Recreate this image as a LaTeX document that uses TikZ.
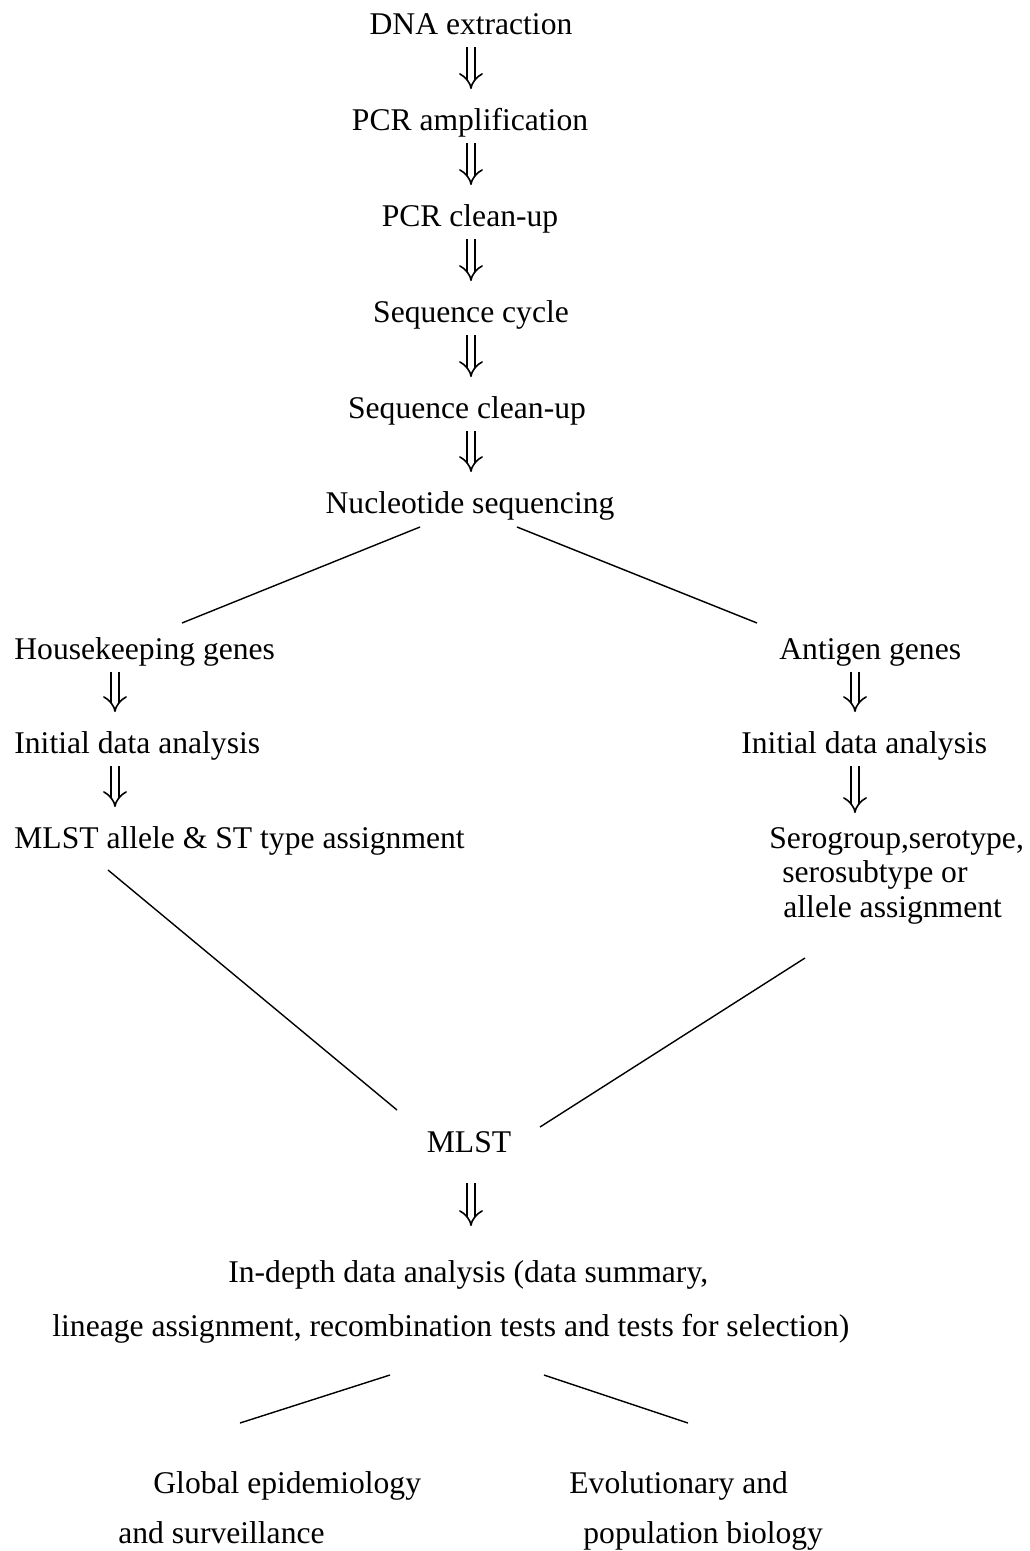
\documentclass[tikz,border=0pt]{standalone}
\usepackage{fontspec}
\setmainfont{Liberation Serif}
\usepackage{tikz}
\usetikzlibrary{arrows.meta}

\begin{document}
\begin{tikzpicture}[x=0.5pt, y=-0.5pt,
    stage/.style={inner sep=0pt, text height=14.5pt, text depth=3.9pt,
                  font=\fontsize{15.8}{17.3}\selectfont},
    block/.style={inner sep=0pt, align=left,
                  font=\fontsize{15.8}{17.3}\selectfont},
    flow/.style={double, double distance=3.4pt, line width=0.8pt,
                 -{Implies[length=8pt, width=15pt]},
                 shorten <=11.5pt, shorten >=15.5pt},
    link/.style={line width=0.7pt}]

\useasboundingbox (0,0) rectangle (1029,1551);

%% ── Lab steps ────────────────────────────────────────────────────────────────
\node[stage] (dna) at (471,24) {DNA extraction};
\node[stage] (pcr) at (470,120) {PCR amplification};
\node[stage] (pcrclean) at (470,216) {PCR clean-up};
\node[stage] (seqcycle) at (471,312) {Sequence cycle};
\node[stage] (seqclean) at (467,408) {Sequence clean-up};
\node[stage] (nucseq) at (470,503) {Nucleotide sequencing};

%% ── Left branch ──────────────────────────────────────────────────────────────
\node[stage, anchor=west] (hkgenes) at (14,649) {Housekeeping genes};
\node[stage, anchor=west] (idaleft) at (14,743) {Initial data analysis};
\node[stage, anchor=west] (mlstassign) at (14,838)
    {MLST allele \& ST type assignment};

%% ── Right branch ─────────────────────────────────────────────────────────────
\node[stage, anchor=west] (aggenes) at (779,649) {Antigen genes};
\node[stage, anchor=west] (idaright) at (741,743) {Initial data analysis};
\node[block, anchor=north west] (serotype) at (769,827)
    {Serogroup,serotype,\\ \hspace*{6.5pt}serosubtype or\\ \hspace*{7pt}allele assignment};

%% ── Merge and analysis ───────────────────────────────────────────────────────
\node[stage] (mlst) at (469,1142) {MLST};
\node[block, anchor=north west] (indepth) at (52,1260)
    {\hspace*{88pt}In-depth data analysis (data summary,\\[9.7pt]
     lineage assignment, recombination tests and tests for selection)};

\node[block, anchor=north west] (global) at (118,1471)
    {\hspace*{17.5pt}Global epidemiology\\[8pt] and surveillance};
\node[block, anchor=north west] (evol) at (569,1471)
    {Evolutionary and\\[8pt] \hspace*{7pt}population biology};

%% ── Arrow columns ────────────────────────────────────────────────────────────
\coordinate (midcol) at (471,0);
\coordinate (leftcol) at (115,0);
\coordinate (rightcol) at (855,0);

\draw[flow] (midcol |- dna) -- (midcol |- pcr);
\draw[flow] (midcol |- pcr) -- (midcol |- pcrclean);
\draw[flow] (midcol |- pcrclean) -- (midcol |- seqcycle);
\draw[flow] (midcol |- seqcycle) -- (midcol |- seqclean);
\draw[flow] (midcol |- seqclean) -- (midcol |- nucseq);

\draw[flow] (leftcol |- hkgenes) -- (leftcol |- idaleft);
\draw[flow] (leftcol |- idaleft) -- (leftcol |- mlstassign);

\draw[flow] (rightcol |- aggenes) -- (rightcol |- idaright);
\draw[flow, shorten >=7pt] (rightcol |- idaright) -- (rightcol |- serotype.north);

\draw[flow, shorten <=20.5pt, shorten >=17pt] (midcol |- mlst) -- (midcol |- indepth.north);

%% ── Branch lines ─────────────────────────────────────────────────────────────
\draw[link] ([shift={(-50,24)}]nucseq.center) -- ([shift={(168,-26)}]hkgenes.west);
\draw[link] ([shift={(47,24)}]nucseq.center) -- ([shift={(-22,-26)}]aggenes.west);

\draw[link] ([shift={(94,32)}]mlstassign.west) -- ([shift={(-72,-32)}]mlst.center);
\draw[link] ([shift={(36,131)}]serotype.north west) -- ([shift={(71,-15)}]mlst.center);

\draw[link] ([shift={(338,115)}]indepth.north west) -- ([shift={(122,-48)}]global.north west);
\draw[link] ([shift={(492,115)}]indepth.north west) -- ([shift={(119,-48)}]evol.north west);

\end{tikzpicture}
\end{document}
